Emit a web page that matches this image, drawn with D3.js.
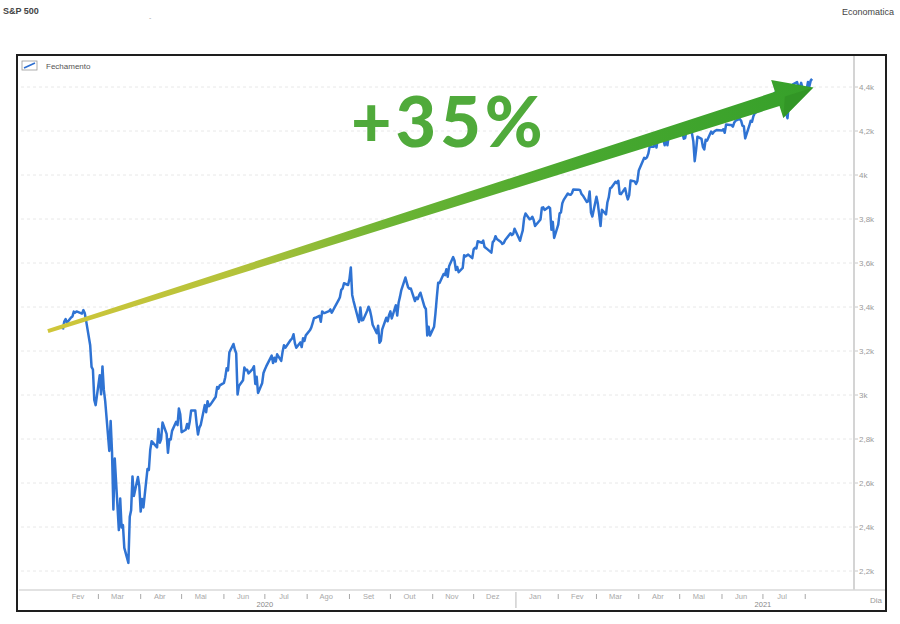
<!DOCTYPE html>
<html>
<head>
<meta charset="utf-8">
<script src="https://cdn.jsdelivr.net/npm/d3@7"></script>
<style>
  body { margin: 0; background: #fff; }
  svg { display: block; font-family: "Liberation Sans", Arial, sans-serif; }
</style>
</head>
<body>
<svg id="chart" width="900" height="624"></svg>
<script>
// S&P 500 daily closes, one line per month: "YYYY-MM dd dd dd ..."
const sessions = [
  "2020-02 04 05 06 07 10 11 12 13 14 18 19 20 21 24 25 26 27 28",
  "2020-03 02 03 04 05 06 09 10 11 12 13 16 17 18 19 20 23 24 25 26 27 30 31",
  "2020-04 01 02 03 06 07 08 09 13 14 15 16 17 20 21 22 23 24 27 28 29 30",
  "2020-05 01 04 05 06 07 08 11 12 13 14 15 18 19 20 21 22 26 27 28 29",
  "2020-06 01 02 03 04 05 08 09 10 11 12 15 16 17 18 19 22 23 24 25 26 29 30",
  "2020-07 01 02 06 07 08 09 10 13 14 15 16 17 20 21 22 23 24 27 28 29 30 31",
  "2020-08 03 04 05 06 07 10 11 12 13 14 17 18 19 20 21 24 25 26 27 28 31",
  "2020-09 01 02 03 04 08 09 10 11 14 15 16 17 18 21 22 23 24 25 28 29 30",
  "2020-10 01 02 05 06 07 08 09 12 13 14 15 16 19 20 21 22 23 26 27 28 29 30",
  "2020-11 02 03 04 05 06 09 10 11 12 13 16 17 18 19 20 23 24 25 27 30",
  "2020-12 01 02 03 04 07 08 09 10 11 14 15 16 17 18 21 22 23 24 28 29 30 31",
  "2021-01 04 05 06 07 08 11 12 13 14 15 19 20 21 22 25 26 27 28 29",
  "2021-02 01 02 03 04 05 08 09 10 11 12 16 17 18 19 22 23 24 25 26",
  "2021-03 01 02 03 04 05 08 09 10 11 12 15 16 17 18 19 22 23 24 25 26 29 30 31",
  "2021-04 01 05 06 07 08 09 12 13 14 15 16 19 20 21 22 23 26 27 28 29 30",
  "2021-05 03 04 05 06 07 10 11 12 13 14 17 18 19 20 21 24 25 26 27 28",
  "2021-06 01 02 03 04 07 08 09 10 11 14 15 16 17 18 21 22 23 24 25 28 29 30",
  "2021-07 01 02 06 07 08 09 12 13 14 15 16 19 20 21 22 23 26 27 28 29 30",
  "2021-08 02 03 04 05 06"
];

const closes = [
  3298, 3334, 3345, 3328, 3352, 3357, 3379, 3374, 3380, 3370, 3386, 3373, 3338, 3226, 3128, 3116, 2978, 2954,
  3090, 3003, 3130, 3023, 2972, 2746, 2882, 2741, 2480, 2711, 2386, 2529, 2398, 2409, 2305, 2237, 2447, 2476, 2630, 2541, 2627, 2585,
  2470, 2527, 2489, 2664, 2659, 2750, 2790, 2762, 2846, 2783, 2800, 2875, 2823, 2737, 2799, 2798, 2837, 2878, 2863, 2939, 2912,
  2831, 2842, 2868, 2848, 2881, 2930, 2930, 2870, 2820, 2852, 2864, 2954, 2922, 2972, 2949, 2955, 2992, 3036, 3029, 3044,
  3055, 3081, 3122, 3112, 3194, 3232, 3207, 3190, 3002, 3041, 3067, 3125, 3113, 3115, 3098, 3118, 3131, 3050, 3083, 3009, 3053, 3100,
  3116, 3130, 3179, 3145, 3169, 3152, 3185, 3155, 3197, 3226, 3215, 3224, 3251, 3257, 3276, 3236, 3215, 3239, 3218, 3258, 3246, 3271,
  3294, 3306, 3327, 3349, 3351, 3360, 3333, 3380, 3373, 3373, 3381, 3389, 3374, 3385, 3397, 3431, 3444, 3478, 3484, 3508, 3500,
  3527, 3580, 3455, 3427, 3332, 3398, 3339, 3341, 3383, 3401, 3385, 3357, 3319, 3281, 3315, 3237, 3246, 3298, 3351, 3335, 3363,
  3380, 3348, 3408, 3361, 3419, 3446, 3477, 3534, 3511, 3489, 3483, 3484, 3427, 3443, 3436, 3453, 3465, 3401, 3391, 3271, 3310, 3270,
  3310, 3370, 3443, 3510, 3509, 3550, 3545, 3572, 3537, 3585, 3627, 3610, 3568, 3582, 3558, 3578, 3635, 3630, 3638, 3622,
  3662, 3669, 3666, 3699, 3692, 3702, 3673, 3668, 3663, 3647, 3695, 3702, 3722, 3709, 3695, 3687, 3690, 3703, 3735, 3727, 3732, 3756,
  3701, 3726, 3748, 3804, 3825, 3799, 3801, 3810, 3795, 3768, 3798, 3851, 3853, 3841, 3855, 3849, 3751, 3787, 3714,
  3774, 3826, 3830, 3872, 3887, 3916, 3911, 3910, 3917, 3934, 3933, 3931, 3914, 3907, 3877, 3881, 3925, 3829, 3811,
  3901, 3870, 3820, 3768, 3842, 3821, 3875, 3898, 3939, 3943, 3969, 3963, 3974, 3915, 3913, 3940, 3911, 3889, 3909, 3975, 3971, 3959, 3973,
  4020, 4078, 4074, 4080, 4097, 4129, 4128, 4142, 4125, 4170, 4185, 4163, 4135, 4174, 4135, 4180, 4188, 4187, 4184, 4211, 4181,
  4192, 4165, 4168, 4202, 4233, 4189, 4153, 4063, 4113, 4174, 4164, 4128, 4116, 4160, 4156, 4197, 4188, 4196, 4201, 4204,
  4202, 4208, 4192, 4230, 4227, 4227, 4220, 4239, 4247, 4255, 4247, 4224, 4222, 4166, 4224, 4246, 4242, 4267, 4281, 4291, 4291, 4298,
  4320, 4352, 4343, 4358, 4320, 4370, 4385, 4369, 4374, 4360, 4327, 4258, 4323, 4359, 4368, 4412, 4422, 4401, 4400, 4419, 4395,
  4387, 4423, 4402, 4429, 4437
];

const yTicks = [2200, 2400, 2600, 2800, 3000, 3200, 3400, 3600, 3800, 4000, 4200, 4400];
const monthNames = ['Jan', 'Fev', 'Mar', 'Abr', 'Mai', 'Jun', 'Jul', 'Ago', 'Set', 'Out', 'Nov', 'Dez'];
const years = [2020, 2021];
// annotation arrow: from (date, level) to (date, level)
const arrowFrom = ['2020-01-24', 3290];
const arrowTo = ['2021-08-07', 4398];
const gainLabel = '+35%';

const parse = d3.utcParse('%Y-%m-%d');
const dates = sessions.flatMap((s) => {
  const [ym, ...days] = s.split(' ');
  return days.map((d) => parse(`${ym}-${d}`));
});
const series = dates.map((d, i) => ({ date: d, value: closes[i] }));

const svg = d3.select('#chart');

// plot frame
const frame = { left: 17, right: 886, top: 55, bottom: 611 };
const plot = { left: 19, right: 853, top: 56, bottom: 590 };

const x = d3
  .scaleUtc()
  .domain([parse('2020-01-01'), parse('2021-09-05')])
  .range([16.5, 853]);

const y = d3.scaleLinear().domain([2200, 4400]).range([571, 87]);

// header texts
svg.append('text').attr('x', 3).attr('y', 14)
  .attr('font-size', 9).attr('font-weight', 'bold').attr('fill', '#444')
  .text('S&P 500');
svg.append('text').attr('x', 149).attr('y', 20)
  .attr('font-size', 7).attr('fill', '#aaa').text('-');
svg.append('text').attr('x', 894).attr('y', 15).attr('text-anchor', 'end')
  .attr('font-size', 9).attr('fill', '#444').text('Economatica');

// outer frame
svg.append('rect')
  .attr('x', frame.left).attr('y', frame.top)
  .attr('width', frame.right - frame.left).attr('height', frame.bottom - frame.top)
  .attr('fill', '#fff').attr('stroke', '#1e1e1e').attr('stroke-width', 2);

// horizontal dashed grid + right axis
const yAxis = svg.append('g').attr('class', 'y-axis');
yAxis.selectAll('line.grid')
  .data(yTicks)
  .enter()
  .append('line')
  .attr('class', 'grid')
  .attr('x1', plot.left + 2).attr('x2', plot.right)
  .attr('y1', (d) => y(d)).attr('y2', (d) => y(d))
  .attr('stroke', '#e8e8e8').attr('stroke-dasharray', '3,3');

yAxis.append('line')
  .attr('x1', plot.right + 1).attr('x2', plot.right + 1)
  .attr('y1', plot.top).attr('y2', plot.bottom)
  .attr('stroke', '#d4d4d4').attr('stroke-width', 2);

yAxis.selectAll('line.tick')
  .data(yTicks)
  .enter()
  .append('line')
  .attr('class', 'tick')
  .attr('x1', plot.right + 2).attr('x2', plot.right + 5)
  .attr('y1', (d) => y(d)).attr('y2', (d) => y(d))
  .attr('stroke', '#c8c8c8');

yAxis.selectAll('text')
  .data(yTicks)
  .enter()
  .append('text')
  .attr('x', plot.right + 6)
  .attr('y', (d) => y(d) + 3)
  .attr('font-size', 8)
  .attr('fill', '#9a9a9a')
  .text((d) => (d % 1000 === 0 ? d / 1000 + 'k' : (d / 1000).toFixed(1).replace('.', ',') + 'k'));

// bottom axis
const xAxis = svg.append('g').attr('class', 'x-axis');
xAxis.append('line')
  .attr('x1', plot.left).attr('x2', frame.right - 1)
  .attr('y1', plot.bottom).attr('y2', plot.bottom)
  .attr('stroke', '#d8d8d8').attr('stroke-width', 1.5);

const monthMids = d3.utcMonths(parse('2020-02-01'), parse('2021-08-01'))
  .map((d) => d3.utcDay.offset(d, 14));
xAxis.selectAll('text.month')
  .data(monthMids)
  .enter()
  .append('text')
  .attr('class', 'month')
  .attr('x', (d) => x(d))
  .attr('y', 599)
  .attr('text-anchor', 'middle')
  .attr('font-size', 7.5)
  .attr('fill', '#a8a8a8')
  .text((d) => monthNames[d.getUTCMonth()]);

const monthStarts = d3.utcMonths(parse('2020-03-01'), parse('2021-08-02'));
xAxis.selectAll('line.mtick')
  .data(monthStarts)
  .enter()
  .append('line')
  .attr('class', 'mtick')
  .attr('x1', (d) => x(d)).attr('x2', (d) => x(d))
  .attr('y1', (d) => (d.getUTCMonth() === 0 ? 592 : 594))
  .attr('y2', (d) => (d.getUTCMonth() === 0 ? 608 : 599))
  .attr('stroke', (d) => (d.getUTCMonth() === 0 ? '#b8b8b8' : '#a8a8a8'))
  .attr('stroke-width', 1);

xAxis.selectAll('text.year')
  .data(years)
  .enter()
  .append('text')
  .attr('class', 'year')
  .attr('x', (d) => x(parse(`${d}-07-01`)))
  .attr('y', 607)
  .attr('text-anchor', 'middle')
  .attr('font-size', 7.5)
  .attr('fill', '#888')
  .text((d) => d);

xAxis.append('text')
  .attr('x', 882).attr('y', 603).attr('text-anchor', 'end')
  .attr('font-size', 8).attr('fill', '#999').text('Dia');

// legend
const legend = svg.append('g').attr('transform', 'translate(22, 61)');
legend.append('rect')
  .attr('width', 15).attr('height', 9)
  .attr('fill', '#fff').attr('stroke', '#999').attr('stroke-width', 0.8);
legend.append('line')
  .attr('x1', 2).attr('y1', 7).attr('x2', 13).attr('y2', 2)
  .attr('stroke', '#2e6fd0').attr('stroke-width', 1.6);
legend.append('text')
  .attr('x', 24).attr('y', 8)
  .attr('font-size', 8).attr('fill', '#555').text('Fechamento');

// price line
svg.append('clipPath').attr('id', 'plot-clip')
  .append('rect')
  .attr('x', plot.left).attr('y', plot.top)
  .attr('width', plot.right - plot.left).attr('height', plot.bottom - plot.top);

const line = d3.line()
  .x((d) => x(d.date))
  .y((d) => y(d.value));

svg.append('path')
  .datum(series)
  .attr('clip-path', 'url(#plot-clip)')
  .attr('fill', 'none')
  .attr('stroke', '#2f73d3')
  .attr('stroke-width', 2.5)
  .attr('stroke-linejoin', 'round')
  .attr('d', line);

// growth arrow annotation
const p0 = [x(parse(arrowFrom[0])), y(arrowFrom[1])];
const p1 = [x(parse(arrowTo[0])), y(arrowTo[1])];
const len = Math.hypot(p1[0] - p0[0], p1[1] - p0[1]);
const u = [(p1[0] - p0[0]) / len, (p1[1] - p0[1]) / len];
const n = [-u[1], u[0]];
const headLen = 38;
const headHalf = 20;
const w0 = 2;
const w1 = 7.5;
const base = [p1[0] - u[0] * headLen, p1[1] - u[1] * headLen];
const pt = (p, s) => [p[0] + n[0] * s, p[1] + n[1] * s];

const defs = svg.append('defs');
const grad = defs.append('linearGradient')
  .attr('id', 'arrow-grad')
  .attr('gradientUnits', 'userSpaceOnUse')
  .attr('x1', p0[0]).attr('y1', p0[1])
  .attr('x2', p1[0]).attr('y2', p1[1]);
[
  [0, '#d0c63a'],
  [0.25, '#b3c23a'],
  [0.45, '#6cb434'],
  [0.7, '#48a82f'],
  [1, '#36a02a']
].forEach(([o, c]) => grad.append('stop').attr('offset', o).attr('stop-color', c));

const arrowPts = [
  pt(p0, -w0), pt(base, -w1), pt(base, -headHalf), p1,
  pt(base, headHalf), pt(base, w1), pt(p0, w0)
];
svg.append('path')
  .attr('d', d3.line()(arrowPts) + 'Z')
  .attr('fill', 'url(#arrow-grad)');

// darker lower facet of the arrow head
svg.append('path')
  .attr('d', d3.line()([pt(base, headHalf), p1, [base[0] + u[0] * 8, base[1] + u[1] * 8]]) + 'Z')
  .attr('fill', '#2c8a22').attr('opacity', 0.45);

svg.append('text')
  .attr('x', 351).attr('y', 147)
  .attr('font-family', 'Lato, "Open Sans", sans-serif')
  .attr('font-weight', 900)
  .attr('font-size', 70)
  .attr('letter-spacing', 4)
  .attr('fill', '#50aa3b')
  .text(gainLabel);
</script>
</body>
</html>
